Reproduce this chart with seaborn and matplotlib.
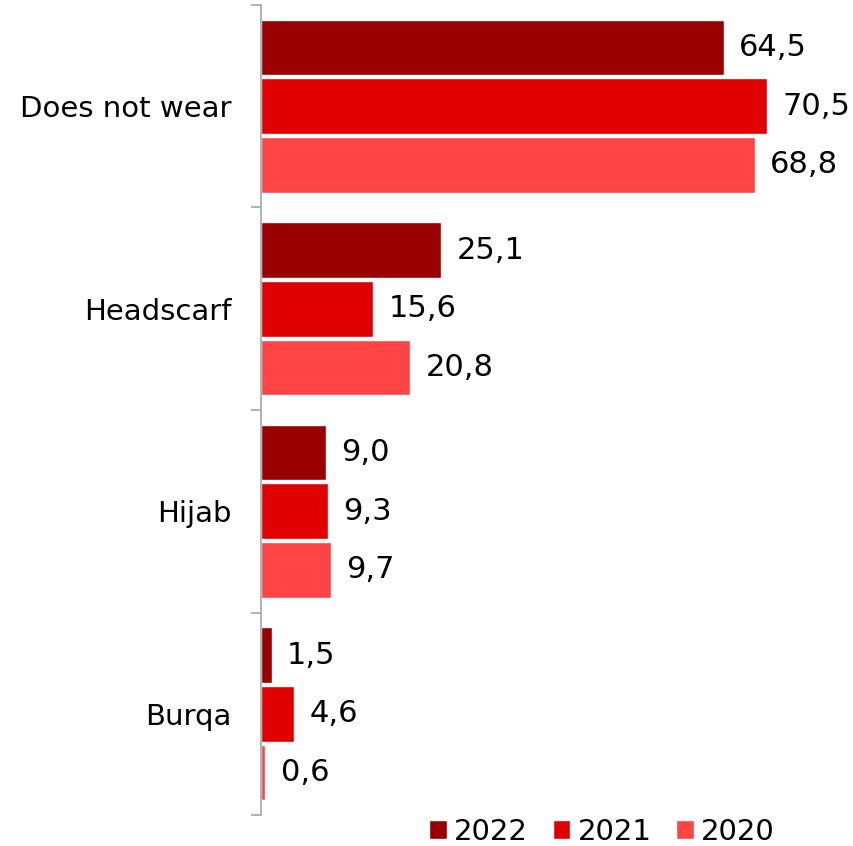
import matplotlib
matplotlib.use('Agg')
import matplotlib.pyplot as plt
import seaborn as sns
import pandas as pd

# Data
categories = ['Does not wear', 'Headscarf', 'Hijab', 'Burqa']
years = ['2022', '2021', '2020']
values_2022 = [64.5, 25.1, 9.0, 1.5]
values_2021 = [70.5, 15.6, 9.3, 4.6]
values_2020 = [68.8, 20.8, 9.7, 0.6]
colors = ['#9A0000', '#E00000', '#FF4444']

df = pd.DataFrame({
    'Category': categories * 3,
    'Year': ['2022'] * 4 + ['2021'] * 4 + ['2020'] * 4,
    'Value': values_2022 + values_2021 + values_2020,
})

sns.set_theme(style="white")
plt.rcParams['font.family'] = ['DejaVu Sans']

fig = plt.figure(figsize=(8.54, 8.46), dpi=100)
ax = fig.add_axes([261 / 854, 1 - 815 / 846, 1 - 261 / 854, 810 / 846])

sns.barplot(data=df, y='Category', x='Value', hue='Year', hue_order=years,
            order=categories, palette=colors, orient='h', width=0.87, gap=0.05,
            saturation=1, ax=ax, legend=True)

for cont in ax.containers:
    ax.bar_label(cont, labels=[f'{v:.1f}'.replace('.', ',') for v in cont.datavalues],
                 padding=11, fontsize=22, color='black')

ax.set_xlim(0, 82.6)
ax.set_ylim(3.5, -0.5)
ax.set_xlabel('')
ax.set_ylabel('')
ax.set_xticks([])

for s in ['top', 'right', 'bottom']:
    ax.spines[s].set_visible(False)
ax.spines['left'].set_color('#A6A6A6')
ax.spines['left'].set_linewidth(1.2)

ax.tick_params(axis='y', which='major', length=0, pad=21, labelsize=21, labelcolor='black')
ax.set_yticks([-0.5, 0.5, 1.5, 2.5, 3.5], minor=True)
ax.tick_params(axis='y', which='minor', length=7, width=1.2, color='#A6A6A6', left=True)

handles, labels = ax.get_legend_handles_labels()
ax.get_legend().remove()
leg = fig.legend(handles, labels, loc='lower right', bbox_to_anchor=(0.938, -0.031), ncol=3,
                 frameon=False, fontsize=21, handlelength=0.6, handleheight=0.6,
                 handletextpad=0.25, columnspacing=0.85)
for t in leg.get_texts():
    t.set_color('black')

fig.savefig('out.png', dpi=100)
